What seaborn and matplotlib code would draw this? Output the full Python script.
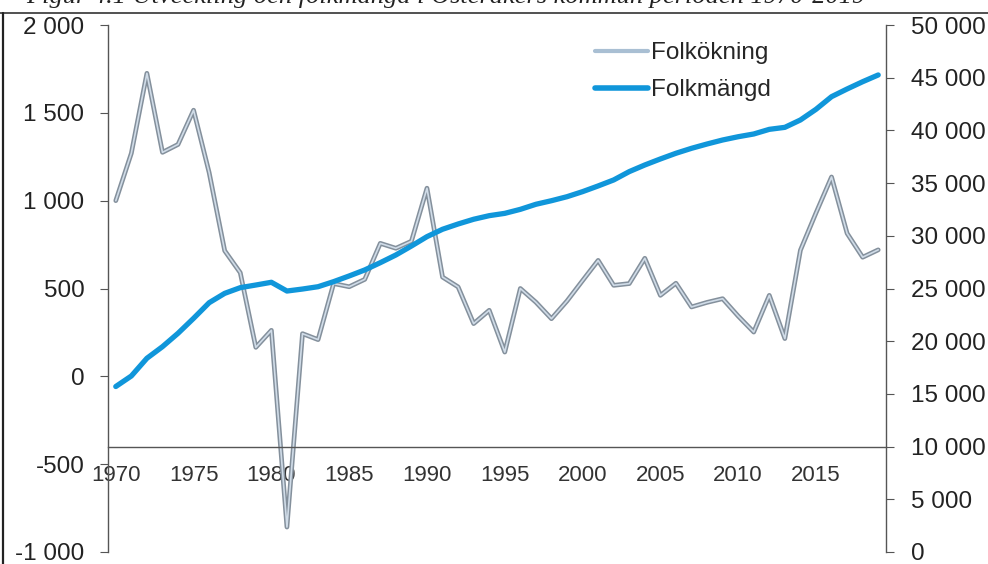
import matplotlib
matplotlib.use("Agg")
import matplotlib.pyplot as plt
from matplotlib.lines import Line2D
from matplotlib.ticker import FuncFormatter, MultipleLocator
import seaborn as sns
import pandas as pd

# --- data ---
years = list(range(1970, 2020))
folkokning = [1000, 1270, 1725, 1275, 1320, 1515, 1160, 715, 590, 165,
              262, -858, 243, 209, 528, 510, 552, 757, 729, 769,
              1071, 565, 509, 300, 376, 138, 500, 422, 328, 429,
              545, 660, 518, 528, 672, 461, 530, 395, 421, 442,
              343, 252, 461, 215, 718, 930, 1135, 814, 678, 720]
folkmangd = [15700, 16700, 18380, 19480, 20750, 22170, 23650, 24540, 25080, 25330,
             25590, 24760, 24950, 25170, 25650, 26190, 26760, 27450, 28180, 29030,
             29920, 30620, 31120, 31570, 31910, 32130, 32510, 32990, 33330, 33710,
             34190, 34730, 35300, 36090, 36720, 37290, 37830, 38300, 38710, 39090,
             39400, 39660, 40100, 40290, 40990, 42000, 43200, 43930, 44620, 45260]
year_ticks = [1970, 1975, 1980, 1985, 1990, 1995, 2000, 2005, 2010, 2015]
title = "Figur 4.1 Utveckling och folkmängd i Österåkers kommun perioden 1970-2019"

df = pd.DataFrame({"År": years, "Folkökning": folkokning, "Folkmängd": folkmangd})

sns.set_style("white")
plt.rcParams["font.family"] = ["Liberation Sans", "DejaVu Sans"]

BLUE = "#1096da"
GREY_DARK = "#84909c"
GREY_LIGHT = "#d0dce8"
AXIS = "#555555"

fig = plt.figure(figsize=(9.88, 5.64), dpi=100)
ax = fig.add_axes([108 / 988, 12 / 564, 778 / 988, 527 / 564])
ax2 = ax.twinx()

# Folkökning (left axis), drawn as a grey line with a pale core like the scan
sns.lineplot(data=df, x="År", y="Folkökning", ax=ax, color=GREY_DARK, lw=3.4)
sns.lineplot(data=df, x="År", y="Folkökning", ax=ax, color=GREY_LIGHT, lw=1.2)
# Folkmängd (right axis)
sns.lineplot(data=df, x="År", y="Folkmängd", ax=ax2, color=BLUE, lw=3.8)

ax.set_xlim(1969.5, 2019.5)
ax.set_ylim(-1000, 2000)
ax2.set_ylim(0, 50000)

space_fmt = FuncFormatter(lambda v, p: f"{int(v):,}".replace(",", " "))
ax.yaxis.set_major_locator(MultipleLocator(500))
ax.yaxis.set_major_formatter(space_fmt)
ax2.yaxis.set_major_locator(MultipleLocator(5000))
ax2.yaxis.set_major_formatter(space_fmt)

ax.set_xticks(year_ticks)
ax.set_xticks([y - 0.5 for y in year_ticks[1:]] + [2019.5], minor=True)
ax.set_xlabel("")
ax.set_ylabel("")
ax2.set_ylabel("")

ax.spines["bottom"].set_position(("data", -400))
ax.spines["top"].set_visible(False)
ax.spines["right"].set_visible(False)
for s in ("top", "left", "bottom"):
    ax2.spines[s].set_visible(False)
for sp in (ax.spines["left"], ax.spines["bottom"], ax2.spines["right"]):
    sp.set_color(AXIS)
    sp.set_linewidth(1.0)

ax.tick_params(axis="y", direction="out", length=6, color=AXIS, labelsize=17.5, pad=11, labelcolor="#222222")
ax2.tick_params(axis="y", direction="out", length=6, color=AXIS, labelsize=17.5, pad=12, labelcolor="#222222")
ax.tick_params(axis="x", which="major", length=0, labelsize=16, pad=13, labelcolor="#333333")
ax.tick_params(axis="x", which="minor", direction="out", length=4, color=AXIS)

handles = [Line2D([], [], color="#a9bfd3", lw=3),
           Line2D([], [], color=BLUE, lw=4)]
ax2.legend(handles, ["Folkökning", "Folkmängd"], loc="upper left",
           bbox_to_anchor=(0.61, 0.99), frameon=False, fontsize=17.5,
           handlelength=2.2, handletextpad=0.1, labelspacing=0.6, borderpad=0)

# cut-off caption and page border from the scan
fig.text(865 / 988, 1 - 2.5 / 564, title, ha="right", va="baseline",
         family=["Liberation Serif"], style="italic", fontsize=19, color="#222222")
fig.add_artist(Line2D([0, 1], [1 - 12.5 / 564] * 2, transform=fig.transFigure, color="#333333", lw=1.2))
fig.add_artist(Line2D([3 / 988] * 2, [0, 1 - 12.5 / 564], transform=fig.transFigure, color="#222222", lw=1.6))

fig.savefig("out.png", dpi=100)
